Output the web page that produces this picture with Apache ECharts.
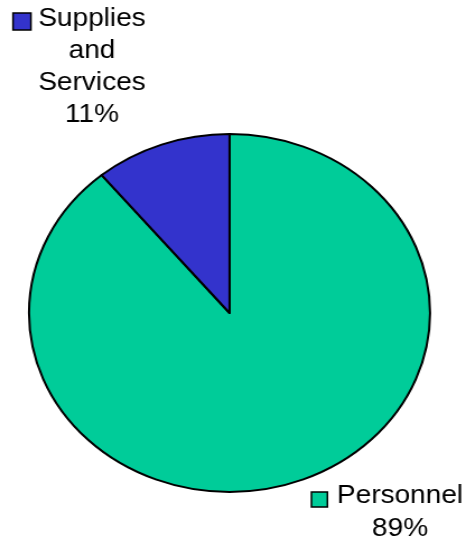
<!DOCTYPE html>
<html>
<head>
<meta charset="utf-8">
<script src="https://cdn.jsdelivr.net/npm/echarts@6/dist/echarts.min.js"></script>
<style>
  html, body { margin: 0; padding: 0; background: #fff; overflow: hidden; }
  #wrap { position: absolute; left: 0; top: 0; width: 466px; height: 545px; overflow: hidden; }
  /* the chart is drawn narrower and widened, giving the oval pie */
  #chart { position: absolute; left: 0; top: 0; width: 416px; height: 545px;
           transform: scaleX(1.1202); transform-origin: 0 0; }
</style>
</head>
<body>
<div id="wrap"><div id="chart"></div></div>
<script>
// Budget share by category
const categories = ['Personnel', 'Supplies and Services'];
const shares = [89, 11];
const labelLines = [['Personnel'], ['Supplies', 'and', 'Services']];
const colors = ['#00CC99', '#3333CC'];

const chart = echarts.init(document.getElementById('chart'), null, { renderer: 'canvas' });
const font = '"Liberation Sans", Arial, sans-serif';

function labelBlock(i, cx, firstY, lineGap, box) {
  const lines = labelLines[i].concat([shares[i] + '%']);
  const els = lines.map((t, k) => ({
    type: 'text',
    style: {
      text: t, x: cx, y: firstY + k * lineGap,
      align: 'center', verticalAlign: 'middle',
      font: '25px ' + font, fill: '#000'
    }
  }));
  els.push({
    type: 'rect',
    shape: box,
    style: { fill: colors[i], stroke: '#000', lineWidth: 1.5 }
  });
  return { type: 'group', children: els };
}

chart.setOption({
  animation: false,
  backgroundColor: '#fff',
  series: [{
    type: 'pie',
    center: [204.9, 313],
    radius: [0, 179],
    startAngle: 90,
    clockwise: true,
    silent: true,
    label: { show: false },
    labelLine: { show: false },
    itemStyle: { borderColor: '#000', borderWidth: 2 },
    data: categories.map((c, i) => ({ name: c, value: shares[i], itemStyle: { color: colors[i] } }))
  }],
  graphic: [
    labelBlock(1, 82.1, 19.5, 31.8, { x: 11.6, y: 13, width: 16, height: 17 }),
    labelBlock(0, 357.1, 496.5, 33, { x: 278, y: 492, width: 14.3, height: 15 })
  ]
});
</script>
</body>
</html>
